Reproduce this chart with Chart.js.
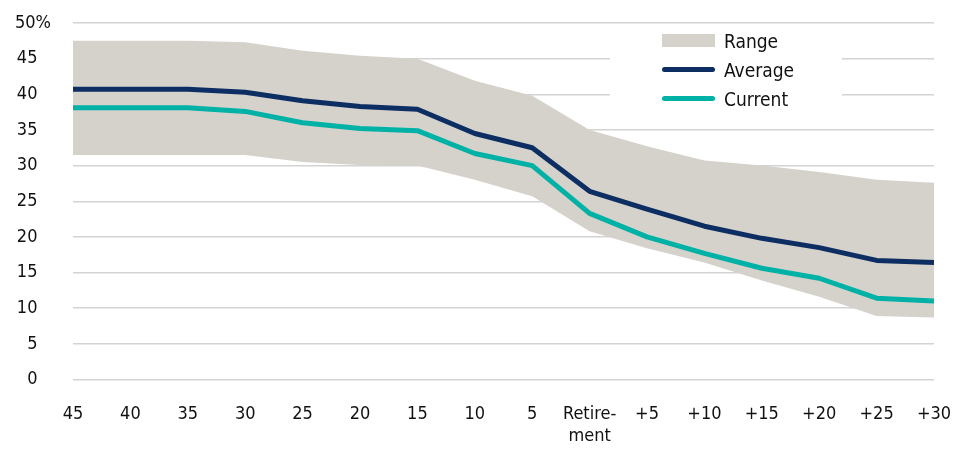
<!DOCTYPE html>
<html>
<head>
<meta charset="utf-8">
<script src="https://cdn.jsdelivr.net/npm/chart.js@4"></script>
<style>
  html, body { margin: 0; padding: 0; background: #fff; }
  #wrap { position: relative; width: 953px; height: 450px; }
  #legend {
    position: absolute; left: 610px; top: 28px; width: 232px; height: 86px;
    background: #fff; font-family: 'Liberation Sans Narrow', 'DejaVu Sans Condensed', sans-serif;
    font-size: 19px; color: #111;
  }
  .row { position: absolute; left: 52px; height: 29px; display: flex; align-items: center; }
  .sw { width: 53px; margin-right: 9px; }
</style>
</head>
<body>
<div id="wrap">
  <canvas id="chart" width="953" height="450"></canvas>
  <div id="legend"></div>
</div>
<script>
const categories = ['45', '40', '35', '30', '25', '20', '15', '10', '5', ['Retire-', 'ment'],
  '+5', '+10', '+15', '+20', '+25', '+30'];
const rangeHigh = [47.5, 47.5, 47.5, 47.3, 46.1, 45.4, 45.0, 41.9, 39.8, 35.0, 32.7, 30.7, 30.0, 29.1, 28.0, 27.6];
const rangeLow = [31.5, 31.5, 31.5, 31.5, 30.5, 30.1, 30.0, 28.0, 25.7, 20.8, 18.4, 16.4, 13.9, 11.6, 8.9, 8.7];
const average = [40.7, 40.7, 40.7, 40.3, 39.1, 38.3, 37.9, 34.5, 32.5, 26.4, 23.9, 21.5, 19.8, 18.5, 16.7, 16.4];
const current = [38.1, 38.1, 38.1, 37.6, 36.0, 35.2, 34.9, 31.7, 30.0, 23.3, 20.0, 17.7, 15.6, 14.2, 11.4, 11.0];
const yTicks = [0, 5, 10, 15, 20, 25, 30, 35, 40, 45, 50];

const RANGE_COLOR = '#d5d1cb';
const AVG_COLOR = '#0c2e63';
const CUR_COLOR = '#00b1a6';
const FONT = "'Liberation Sans Narrow', 'DejaVu Sans Condensed', sans-serif";

const ctx = document.getElementById('chart').getContext('2d');
new Chart(ctx, {
  type: 'line',
  data: {
    labels: categories,
    datasets: [
      { label: 'Current', data: current, borderColor: CUR_COLOR, borderWidth: 5, fill: false, order: 1 },
      { label: 'Average', data: average, borderColor: AVG_COLOR, borderWidth: 5, fill: false, order: 0 },
      { label: 'RangeLow', data: rangeLow, borderWidth: 0, borderColor: 'rgba(0,0,0,0)', fill: false, order: 3 },
      { label: 'Range', data: rangeHigh, borderWidth: 0, borderColor: 'rgba(0,0,0,0)',
        backgroundColor: RANGE_COLOR, fill: '-1', order: 2 },
    ],
  },
  options: {
    responsive: false,
    animation: false,
    devicePixelRatio: 1,
    elements: {
      point: { radius: 0, hoverRadius: 0 },
      line: { tension: 0, borderJoinStyle: 'round', borderCapStyle: 'butt' },
    },
    layout: { padding: { top: 23, right: 19, bottom: 0, left: 0 } },
    plugins: {
      legend: { display: false },
      tooltip: { enabled: false },
      filler: { drawTime: 'beforeDatasetsDraw' },
    },
    scales: {
      x: {
        grid: { display: false },
        border: { display: false },
        ticks: {
          color: '#111', font: { family: FONT, size: 18 }, padding: 16,
          maxRotation: 0, autoSkip: false,
        },
        afterFit: s => { s.height = 70.5; s.paddingLeft = 0; s.paddingRight = 0; },
      },
      y: {
        min: 0, max: 50,
        afterBuildTicks: s => { s.ticks = yTicks.map(v => ({ value: v })); },
        grid: { color: '#d3d3d3', lineWidth: 1.5, drawTicks: false },
        border: { display: false },
        ticks: {
          color: '#111', font: { family: FONT, size: 18 }, padding: 22,
          callback: v => v === 50 ? '50%' : v + '\u2007\u2009',
        },
        afterFit: s => { s.width = 73; s.paddingTop = 0; s.paddingBottom = 0; },
      },
    },
  },
});

const legendItems = [
  { name: 'Range', kind: 'box', color: RANGE_COLOR },
  { name: 'Average', kind: 'line', color: AVG_COLOR },
  { name: 'Current', kind: 'line', color: CUR_COLOR },
];
const legend = document.getElementById('legend');
legendItems.forEach((it, i) => {
  const row = document.createElement('div');
  row.className = 'row';
  row.style.top = (i * 29 - 2) + 'px';
  const sw = document.createElement('div');
  sw.className = 'sw';
  if (it.kind === 'box') { sw.style.height = '13px'; sw.style.background = it.color; }
  else { sw.style.height = '5px'; sw.style.borderRadius = '3px'; sw.style.background = it.color; }
  row.appendChild(sw);
  row.appendChild(document.createTextNode(it.name));
  legend.appendChild(row);
});
</script>
</body>
</html>
